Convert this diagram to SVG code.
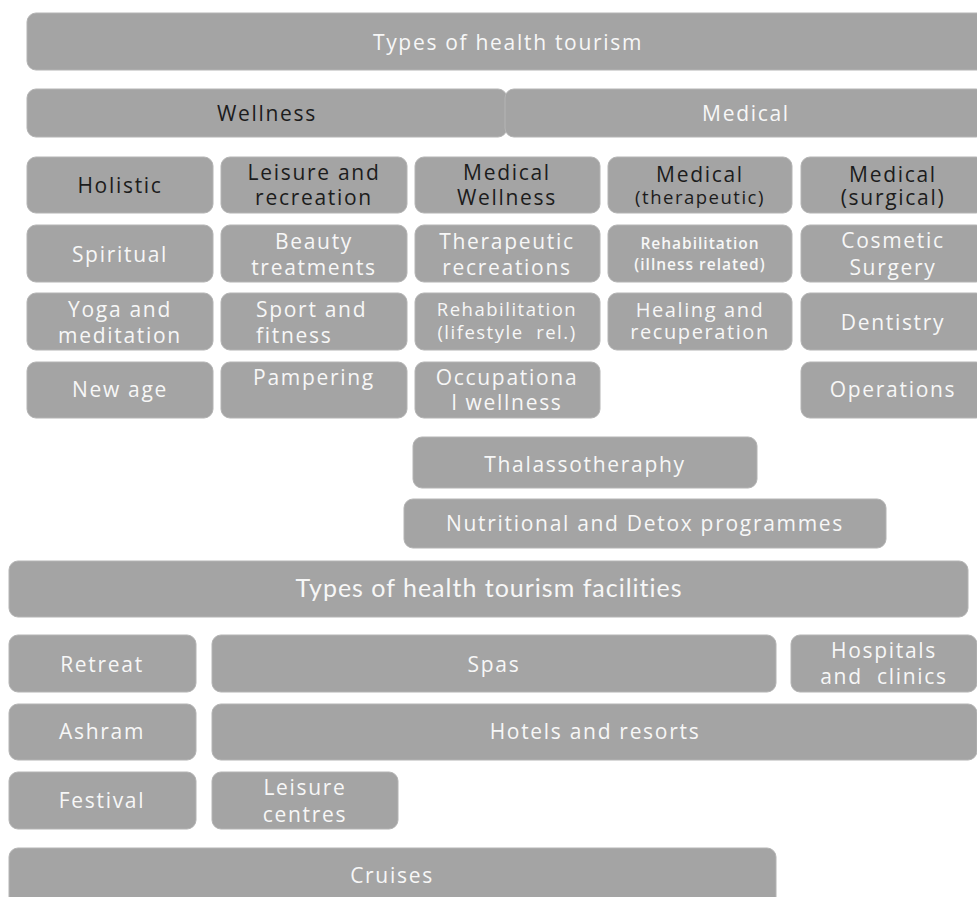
<svg xmlns="http://www.w3.org/2000/svg" width="977" height="897" viewBox="0 0 977 897">
<style>
.b{fill:#a4a4a4;stroke:#b4b4b4;stroke-width:1}
text{font-family:"Open Sans","DejaVu Sans",sans-serif;text-anchor:middle;letter-spacing:1.7px;font-weight:500}
.w{fill:#f7f7f7;font-size:21px}
.d{fill:#1c1c1c;font-size:21px}
.s{font-size:18.5px;letter-spacing:1.5px}
.xs{font-size:15.5px;font-weight:600;letter-spacing:1px}
.m{font-size:20px;letter-spacing:1.6px}
.c{font-family:Lato,"Open Sans",sans-serif;letter-spacing:1px;font-size:25px;font-weight:400}
.p{white-space:pre}
</style>
<rect width="977" height="897" fill="#ffffff"/>
<g id="types-health-tourism"><rect class="b" x="27" y="13" width="962" height="57" rx="9"/><text class="w" x="508" y="50">Types of health tourism</text></g>
<g id="wellness"><rect class="b" x="27" y="89" width="480" height="48" rx="9"/><text class="d" x="267" y="121">Wellness</text></g>
<g id="medical"><rect class="b" x="505" y="89" width="480" height="48" rx="9"/><text class="w" x="746" y="121">Medical</text></g>

<g id="holistic"><rect class="b" x="27" y="157" width="186" height="56" rx="9"/><text class="d" x="120" y="193">Holistic</text></g>
<g id="leisure-recreation"><rect class="b" x="221" y="157" width="186" height="56" rx="9"/><text class="d" x="314" y="180">Leisure and</text><text class="d" x="314" y="205">recreation</text></g>
<g id="medical-wellness"><rect class="b" x="415" y="157" width="185" height="56" rx="9"/><text class="d" x="507" y="180">Medical</text><text class="d" x="507" y="205">Wellness</text></g>
<g id="medical-therapeutic"><rect class="b" x="608" y="157" width="184" height="56" rx="9"/><text class="d" x="700" y="182">Medical</text><text class="d s" x="700" y="204">(therapeutic)</text></g>
<g id="medical-surgical"><rect class="b" x="801" y="157" width="184" height="56" rx="9"/><text class="d" x="893" y="182">Medical</text><text class="d" x="893" y="205">(surgical)</text></g>

<g id="spiritual"><rect class="b" x="27" y="225" width="186" height="57" rx="9"/><text class="w" x="120" y="262">Spiritual</text></g>
<g id="beauty"><rect class="b" x="221" y="225" width="186" height="57" rx="9"/><text class="w" x="314" y="249">Beauty</text><text class="w" x="314" y="275">treatments</text></g>
<g id="therapeutic-recreations"><rect class="b" x="415" y="225" width="185" height="57" rx="9"/><text class="w" x="507" y="249">Therapeutic</text><text class="w" x="507" y="275">recreations</text></g>
<g id="rehab-illness"><rect class="b" x="608" y="225" width="184" height="57" rx="9"/><text class="w xs" x="700" y="249">Rehabilitation</text><text class="w xs" x="700" y="270">(illness related)</text></g>
<g id="cosmetic-surgery"><rect class="b" x="801" y="225" width="184" height="57" rx="9"/><text class="w" x="893" y="248">Cosmetic</text><text class="w" x="893" y="275">Surgery</text></g>

<g id="yoga"><rect class="b" x="27" y="293" width="186" height="57" rx="9"/><text class="w" x="120" y="317">Yoga and</text><text class="w" x="120" y="343">meditation</text></g>
<g id="sport"><rect class="b" x="221" y="293" width="186" height="57" rx="9"/><text class="w" x="256" y="317" style="text-anchor:start">Sport and</text><text class="w" x="256" y="343" style="text-anchor:start">fitness</text></g>
<g id="rehab-lifestyle"><rect class="b" x="415" y="293" width="185" height="57" rx="9"/><text class="w s" x="507" y="316">Rehabilitation</text><text class="w s p" x="507" y="339">(lifestyle  rel.)</text></g>
<g id="healing"><rect class="b" x="608" y="293" width="184" height="57" rx="9"/><text class="w m" x="700" y="317">Healing and</text><text class="w m" x="700" y="339">recuperation</text></g>
<g id="dentistry"><rect class="b" x="801" y="293" width="184" height="57" rx="9"/><text class="w" x="893" y="330">Dentistry</text></g>

<g id="new-age"><rect class="b" x="27" y="362" width="186" height="56" rx="9"/><text class="w" x="120" y="397">New age</text></g>
<g id="pampering"><rect class="b" x="221" y="362" width="186" height="56" rx="9"/><text class="w" x="314" y="385">Pampering</text></g>
<g id="occupational"><rect class="b" x="415" y="362" width="185" height="56" rx="9"/><text class="w" x="507" y="385">Occupationa</text><text class="w" x="507" y="410">l wellness</text></g>
<g id="operations"><rect class="b" x="801" y="362" width="184" height="56" rx="9"/><text class="w" x="893" y="397">Operations</text></g>

<g id="thalasso"><rect class="b" x="413" y="437" width="344" height="51" rx="9"/><text class="w" x="585" y="472">Thalassotheraphy</text></g>
<g id="nutritional"><rect class="b" x="404" y="499" width="482" height="49" rx="9"/><text class="w" x="645" y="531">Nutritional and Detox programmes</text></g>

<g id="types-facilities"><rect class="b" x="9" y="561" width="959" height="56" rx="9"/><text class="w c" x="489" y="597">Types of health tourism facilities</text></g>

<g id="retreat"><rect class="b" x="9" y="635" width="187" height="57" rx="9"/><text class="w" x="102" y="672">Retreat</text></g>
<g id="spas"><rect class="b" x="212" y="635" width="564" height="57" rx="9"/><text class="w" x="494" y="672">Spas</text></g>
<g id="hospitals"><rect class="b" x="791" y="635" width="186" height="57" rx="9"/><text class="w" x="884" y="658">Hospitals</text><text class="w p" x="884" y="684">and  clinics</text></g>

<g id="ashram"><rect class="b" x="9" y="704" width="187" height="56" rx="9"/><text class="w" x="102" y="739">Ashram</text></g>
<g id="hotels"><rect class="b" x="212" y="704" width="765" height="56" rx="9"/><text class="w" x="595" y="739">Hotels and resorts</text></g>

<g id="festival"><rect class="b" x="9" y="772" width="187" height="57" rx="9"/><text class="w" x="102" y="808">Festival</text></g>
<g id="leisure-centres"><rect class="b" x="212" y="772" width="186" height="57" rx="9"/><text class="w" x="305" y="795">Leisure</text><text class="w" x="305" y="822">centres</text></g>

<g id="cruises"><rect class="b" x="9" y="848" width="767" height="60" rx="9"/><text class="w" x="392" y="883">Cruises</text></g>
<g id="connectors"></g>
</svg>
